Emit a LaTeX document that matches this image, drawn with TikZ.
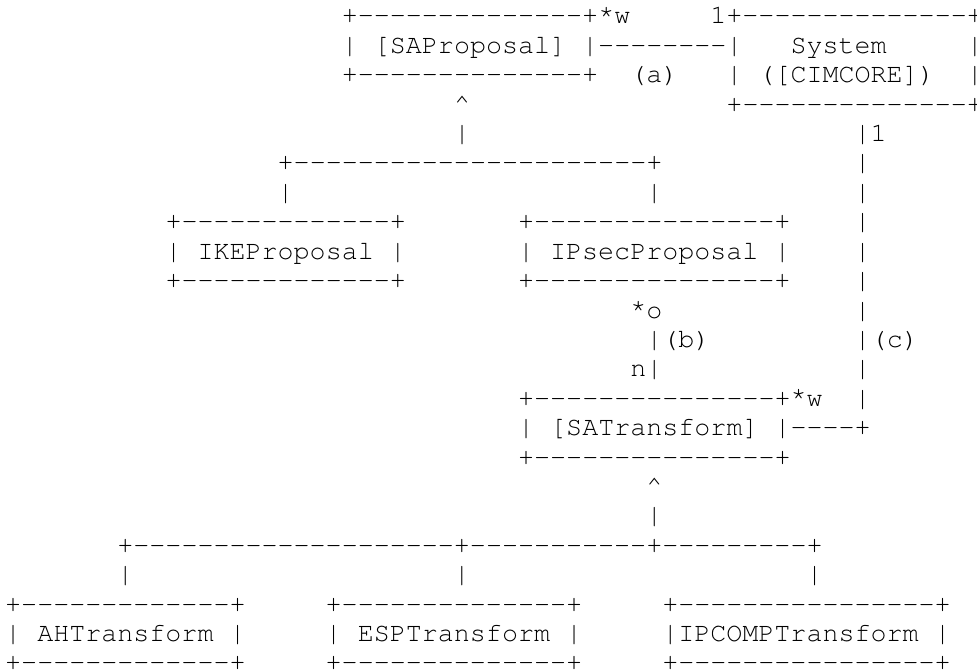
\documentclass[tikz,border=0pt]{standalone}
\usepackage[T1]{fontenc}
\usepackage{tikz}

\newcommand\asciifont{\fontencoding{T1}\fontfamily{pcr}\fontsize{26.71pt}{29.4pt}\selectfont}
\newcommand\upast{\raisebox{0.2em}{*}}
\ExplSyntaxOn
\NewDocumentCommand\repchar{mm}{\prg_replicate:nn{#1}{#2}}
\ExplSyntaxOff

\begin{document}
\begin{tikzpicture}[x=16.03pt, y=-29.4pt,
  txtrow/.style={anchor=base west, inner sep=0pt, text depth=0pt, font=\asciifont}]

\useasboundingbox (-5pt,-5.4pt) rectangle (972pt,-676.4pt);

\node [txtrow] (r1)  at (21,1)  {+\repchar{14}{-{}}+\upast w\repchar{5}{~}1+\repchar{14}{-{}}+};
\node [txtrow] (r2)  at (21,2)  {|~[SAProposal]~|\repchar{8}{-{}}|~~~System~~~~~|};
\node [txtrow] (r3)  at (21,3)  {+\repchar{14}{-{}}+~~(a)~~~|~([CIMCORE])~~|};
\node [txtrow] (r4)  at (28,4)  {\textasciicircum\repchar{16}{~}+\repchar{14}{-{}}+};
\node [txtrow] (r5)  at (28,5)  {|\repchar{24}{~}|1};
\node [txtrow] (r6)  at (17,6)  {+\repchar{22}{-{}}+\repchar{12}{~}|};
\node [txtrow] (r7)  at (17,7)  {|\repchar{22}{~}|\repchar{12}{~}|};
\node [txtrow] (r8)  at (10,8)  {+\repchar{13}{-{}}+\repchar{7}{~}+\repchar{15}{-{}}+\repchar{4}{~}|};
\node [txtrow] (r9)  at (10,9)  {|~IKEProposal~|\repchar{7}{~}|~IPsecProposal~|\repchar{4}{~}|};
\node [txtrow] (r10) at (10,10) {+\repchar{13}{-{}}+\repchar{7}{~}+\repchar{15}{-{}}+\repchar{4}{~}|};
\node [txtrow] (r11) at (39,11) {\upast o\repchar{12}{~}|};
\node [txtrow] (r12) at (40,12) {|(b)\repchar{9}{~}|(c)};
\node [txtrow] (r13) at (39,13) {n|\repchar{12}{~}|};
\node [txtrow] (r14) at (32,14) {+\repchar{15}{-{}}+\upast w~~|};
\node [txtrow] (r15) at (32,15) {|~[SATransform]~|\repchar{4}{-{}}+};
\node [txtrow] (r16) at (32,16) {+\repchar{15}{-{}}+};
\node [txtrow] (r17) at (40,17) {\textasciicircum};
\node [txtrow] (r18) at (40,18) {|};
\node [txtrow] (r19) at (7,19)  {+\repchar{20}{-{}}+\repchar{11}{-{}}+\repchar{9}{-{}}+};
\node [txtrow] (r20) at (7,20)  {|\repchar{20}{~}|\repchar{21}{~}|};
\node [txtrow] (r21) at (0,21)  {+\repchar{13}{-{}}+\repchar{5}{~}+\repchar{14}{-{}}+\repchar{5}{~}+\repchar{16}{-{}}+};
\node [txtrow] (r22) at (0,22)  {|~AHTransform~|\repchar{5}{~}|~ESPTransform~|\repchar{5}{~}|IPCOMPTransform~|};
\node [txtrow] (r23) at (0,23)  {+\repchar{13}{-{}}+\repchar{5}{~}+\repchar{14}{-{}}+\repchar{5}{~}+\repchar{16}{-{}}+};

\end{tikzpicture}
\end{document}
